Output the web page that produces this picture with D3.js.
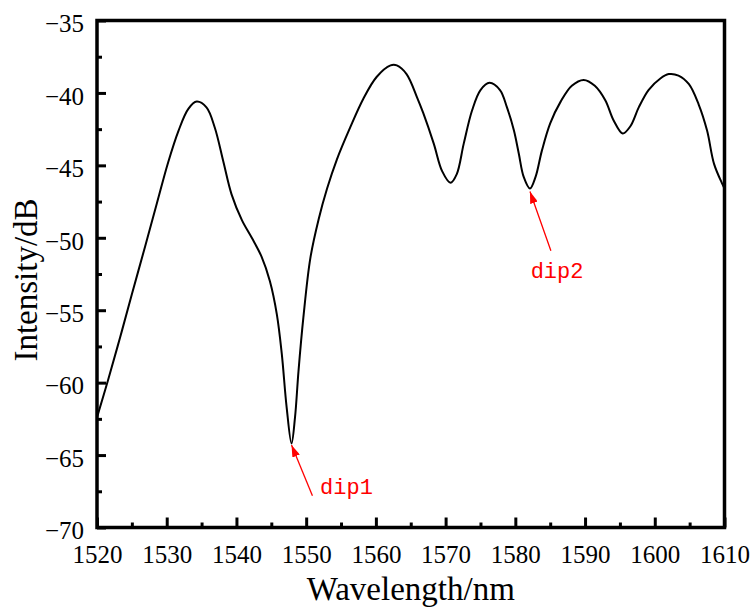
<!DOCTYPE html>
<html>
<head>
<meta charset="utf-8">
<script src="https://cdn.jsdelivr.net/npm/d3@7"></script>
<style>
  body { margin: 0; background: #fff; }
  svg { display: block; }
</style>
</head>
<body>
<div id="chart"></div>
<script>
// Spectrum
const wavelength = [
  1520, 1521.6, 1523.3, 1525.0, 1526.9, 1528.6, 1530.2, 1531.7, 1533.1, 1534.3,
  1535.7, 1536.9, 1538.1, 1539.3, 1540.8, 1542.2, 1543.6, 1544.8, 1545.8, 1546.5,
  1547.2, 1547.9, 1548.4, 1548.9, 1549.6, 1550.6, 1551.8, 1553.0, 1554.4, 1556.3,
  1558.2, 1560.1, 1562.1, 1563.0, 1564.4, 1565.9, 1566.8, 1568.3, 1569.5, 1570.7,
  1571.6, 1572.6, 1573.8, 1575.0, 1576.3, 1577.8, 1578.8, 1579.8, 1580.5, 1581.2,
  1582.1, 1582.9, 1583.8, 1585.0, 1586.5, 1588.1, 1589.8, 1591.4, 1592.9, 1594.1,
  1595.4, 1596.5, 1597.7, 1599.1, 1600.8, 1602.0, 1603.4, 1604.9, 1606.3, 1607.5,
  1608.5, 1609.7, 1610
];
const intensity = [
  -62.4, -59.8, -56.9, -53.9, -50.6, -47.6, -44.8, -42.6, -41.1, -40.6,
  -41.0, -42.4, -44.7, -47.0, -48.8, -50.0, -51.3, -53.0, -55.3, -58.0,
  -61.7, -64.2, -62.4, -59.2, -55.5, -51.4, -48.7, -46.6, -44.6, -42.4,
  -40.4, -38.9, -38.1, -38.1, -38.7, -40.3, -41.4, -43.5, -45.4, -46.2,
  -45.6, -43.5, -41.2, -39.8, -39.3, -39.8, -41.0, -42.6, -44.2, -45.8,
  -46.6, -45.8, -44.0, -42.1, -40.6, -39.5, -39.1, -39.5, -40.5, -41.9,
  -42.8, -42.3, -41.0, -39.8, -39.0, -38.7, -38.8, -39.4, -40.8, -42.6,
  -44.9, -46.3, -46.6
];

// Axis ticks
const xTicks = [1520, 1530, 1540, 1550, 1560, 1570, 1580, 1590, 1600, 1610];
const xMinorTicks = [1525, 1535, 1545, 1555, 1565, 1575, 1585, 1595, 1605];
const yTicks = [-35, -40, -45, -50, -55, -60, -65, -70];
const yMinorTicks = [-37.5, -42.5, -47.5, -52.5, -57.5, -62.5, -67.5];

// Dip annotations: label, arrow tip, arrow tail, text anchor (data units)
const dipLabels = ["dip1", "dip2"];
const dipTip = [[1547.9, -64.3], [1582.1, -46.8]];
const dipTail = [[1550.9, -67.8], [1585.1, -50.9]];
const dipText = [[1552.0, -67.7], [1582.2, -52.8]];

const width = 752, height = 607;
const margin = { top: 20.5, right: 27.5, bottom: 79.5, left: 97 };

const svg = d3.select("#chart")
  .append("svg")
  .attr("width", width)
  .attr("height", height);

const x = d3.scaleLinear().domain([1520, 1610]).range([margin.left, width - margin.right]);
const y = d3.scaleLinear().domain([-70, -35]).range([height - margin.bottom, margin.top]);

const serif = "'Liberation Serif', 'Times New Roman', serif";

// Bottom axis: inward ticks
const xAxis = svg.append("g")
  .attr("transform", `translate(0,${y(-70)})`)
  .call(d3.axisBottom(x).tickValues(xTicks).tickSizeInner(-10).tickSizeOuter(0)
    .tickFormat(d3.format("d")))
  .call(g => g.select(".domain").remove());
xAxis.selectAll(".tick line").attr("stroke", "#000").attr("stroke-width", 3);
xAxis.selectAll(".tick text")
  .attr("y", 35)
  .attr("dy", 0)
  .style("font-family", serif)
  .style("font-size", "25px")
  .attr("fill", "#000");

svg.append("g")
  .attr("transform", `translate(0,${y(-70)})`)
  .call(d3.axisBottom(x).tickValues(xMinorTicks).tickSizeInner(-5).tickSizeOuter(0).tickFormat(""))
  .call(g => g.select(".domain").remove())
  .selectAll(".tick line").attr("stroke", "#000").attr("stroke-width", 3);

// Left axis
const yAxis = svg.append("g")
  .attr("transform", `translate(${x(1520)},0)`)
  .call(d3.axisLeft(y).tickValues(yTicks).tickSizeInner(-9).tickSizeOuter(0)
    .tickFormat(d => "\u2212" + Math.abs(d)))
  .call(g => g.select(".domain").remove());
yAxis.selectAll(".tick line").attr("stroke", "#000").attr("stroke-width", 3);
yAxis.selectAll(".tick text")
  .attr("x", -13)
  .attr("dy", "0.45em")
  .style("font-family", serif)
  .style("font-size", "25px")
  .attr("fill", "#000");

svg.append("g")
  .attr("transform", `translate(${x(1520)},0)`)
  .call(d3.axisLeft(y).tickValues(yMinorTicks).tickSizeInner(-5).tickSizeOuter(0).tickFormat(""))
  .call(g => g.select(".domain").remove())
  .selectAll(".tick line").attr("stroke", "#000").attr("stroke-width", 3);

// Frame around the plot
svg.append("rect")
  .attr("x", x(1520))
  .attr("y", y(-35))
  .attr("width", x(1610) - x(1520))
  .attr("height", y(-70) - y(-35))
  .attr("fill", "none")
  .attr("stroke", "#000")
  .attr("stroke-width", 3.5);

// Spectrum line
const points = wavelength.map((w, i) => [w, intensity[i]]);
const line = d3.line()
  .x(d => x(d[0]))
  .y(d => y(d[1]))
  .curve(d3.curveCatmullRom.alpha(0.5));

svg.append("path")
  .datum(points)
  .attr("fill", "none")
  .attr("stroke", "#000")
  .attr("stroke-width", 2)
  .attr("d", line);

// Arrow marker
svg.append("defs").append("marker")
  .attr("id", "arrow")
  .attr("viewBox", "0 0 12 8")
  .attr("refX", 12)
  .attr("refY", 4)
  .attr("markerWidth", 12)
  .attr("markerHeight", 8)
  .attr("markerUnits", "userSpaceOnUse")
  .attr("orient", "auto")
  .append("path")
  .attr("d", "M0,0 L12,4 L0,8 Z")
  .attr("fill", "#ff0000");

dipLabels.forEach((label, i) => {
  svg.append("line")
    .attr("x1", x(dipTail[i][0]))
    .attr("y1", y(dipTail[i][1]))
    .attr("x2", x(dipTip[i][0]))
    .attr("y2", y(dipTip[i][1]))
    .attr("stroke", "#ff0000")
    .attr("stroke-width", 1.3)
    .attr("marker-end", "url(#arrow)");

  svg.append("text")
    .attr("x", x(dipText[i][0]))
    .attr("y", y(dipText[i][1]))
    .style("font-family", "'Liberation Mono', 'DejaVu Sans Mono', monospace")
    .style("font-size", "22px")
    .attr("fill", "#ff0000")
    .text(label);
});

// Axis titles
svg.append("text")
  .attr("x", (x(1520) + x(1610)) / 2)
  .attr("y", 600)
  .attr("text-anchor", "middle")
  .style("font-family", serif)
  .style("font-size", "33px")
  .attr("fill", "#000")
  .text("Wavelength/nm");

svg.append("text")
  .attr("transform", `translate(37,${(y(-35) + y(-70)) / 2 + 6}) rotate(-90)`)
  .attr("text-anchor", "middle")
  .style("font-family", serif)
  .style("font-size", "33px")
  .attr("fill", "#000")
  .text("Intensity/dB");
</script>
</body>
</html>
